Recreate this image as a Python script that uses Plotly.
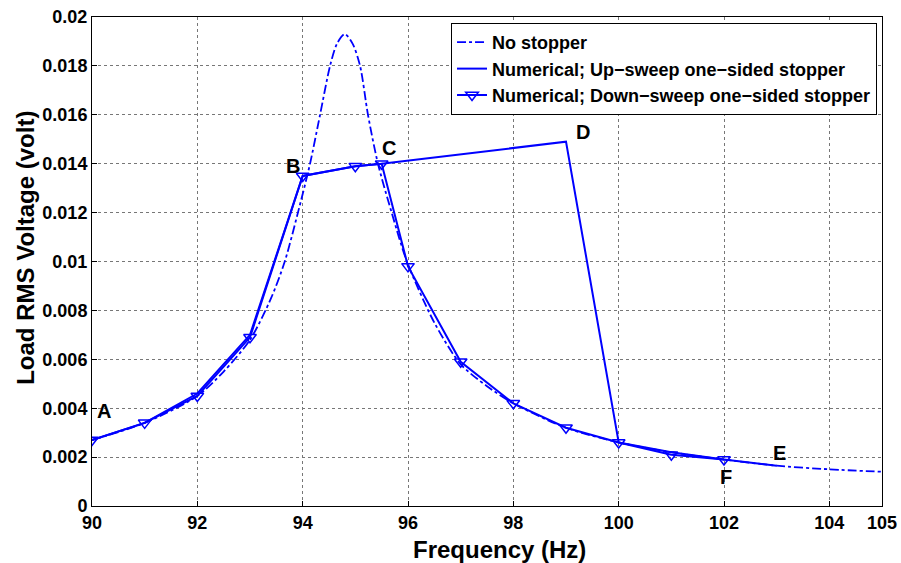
import plotly.graph_objects as go

# No stopper (analytical) curve
ns_x = [90, 91, 92, 92.5, 93, 93.4, 93.66, 93.91, 94.14, 94.33, 94.52, 94.65, 94.8, 94.95, 95.09, 95.24, 95.43, 95.69, 95.98, 96.5, 97, 97.5, 98, 99, 100, 101, 102, 103, 104, 105]
ns_y = [0.0027, 0.0034, 0.0045, 0.0055, 0.0068, 0.0085, 0.0100, 0.0120, 0.0140, 0.0160, 0.0180, 0.0189, 0.0193, 0.0189, 0.0180, 0.0160, 0.0140, 0.0120, 0.0100, 0.0075, 0.0058, 0.0049, 0.0042, 0.0032, 0.0026, 0.0022, 0.0019, 0.00165, 0.0015, 0.0014]

# Up-sweep one-sided stopper
up_x = [90, 91, 92, 93, 94, 95, 95.5, 99, 100, 101, 102, 103]
up_y = [0.0027, 0.0034, 0.0046, 0.0070, 0.0135, 0.0139, 0.0140, 0.0149, 0.0026, 0.0022, 0.0019, 0.00165]

# Down-sweep one-sided stopper
dn_x = [90, 91, 92, 93, 94, 95, 95.5, 96, 97, 98, 99, 100, 101, 102]
dn_y = [0.0027, 0.0034, 0.0045, 0.0069, 0.0135, 0.0139, 0.0140, 0.0098, 0.0059, 0.0042, 0.0032, 0.0026, 0.0021, 0.0019]

# Point labels
lab_text = ["A", "B", "C", "D", "E", "F"]
lab_x = [90.22, 93.82, 95.64, 99.32, 103.06, 102.04]
lab_y = [0.0039, 0.0139, 0.01465, 0.0153, 0.00215, 0.0012]

x_ticks = [90, 92, 94, 96, 98, 100, 102, 104, 105]
y_ticks = [0, 0.002, 0.004, 0.006, 0.008, 0.01, 0.012, 0.014, 0.016, 0.018, 0.02]
y_ticktext = ["0", "0.002", "0.004", "0.006", "0.008", "0.01", "0.012", "0.014", "0.016", "0.018", "0.02"]

BLUE = "#0000ff"
FONT = "Liberation Sans, Arial, sans-serif"

fig = go.Figure()
fig.add_trace(go.Scatter(x=ns_x, y=ns_y, mode="lines", name="No stopper",
                         line=dict(color=BLUE, width=1.8, dash="dashdot", shape="spline", smoothing=0.8)))
fig.add_trace(go.Scatter(x=up_x, y=up_y, mode="lines", name="Numerical; Up\u2212sweep one\u2212sided stopper",
                         line=dict(color=BLUE, width=2)))
fig.add_trace(go.Scatter(x=dn_x, y=dn_y, mode="lines+markers", name="Numerical; Down\u2212sweep one\u2212sided stopper",
                         line=dict(color=BLUE, width=2),
                         marker=dict(symbol="triangle-down-open", size=11, color=BLUE, line=dict(width=1.5, color=BLUE))))

for t, x, y in zip(lab_text, lab_x, lab_y):
    fig.add_annotation(x=x, y=y, text=t, showarrow=False,
                       font=dict(family=FONT, size=20, color="black", weight="bold"))

# Axis titles
fig.add_annotation(xref="paper", yref="paper", x=0.516, y=0, yshift=-43, text="Frequency (Hz)",
                   showarrow=False, xanchor="center", yanchor="middle",
                   font=dict(family=FONT, size=24, color="black", weight="bold"))
fig.add_annotation(xref="paper", yref="paper", x=0, xshift=-66, y=0.528, text="Load RMS Voltage (volt)",
                   showarrow=False, textangle=-90, xanchor="center", yanchor="middle",
                   font=dict(family=FONT, size=24, color="black", weight="bold"))

axis_common = dict(showline=True, linecolor="black", linewidth=1, mirror=True,
                   ticks="inside", ticklen=5, tickcolor="black",
                   showgrid=True, gridcolor="#777777", griddash="dot", gridwidth=1,
                   zeroline=False, automargin=False, ticklabeloverflow="allow",
                   tickfont=dict(family=FONT, size=18, color="black", weight="bold"))

fig.update_xaxes(range=[90, 105], tickvals=x_ticks, ticktext=[str(v) for v in x_ticks], **axis_common)
fig.update_yaxes(range=[0, 0.02], tickvals=y_ticks, ticktext=y_ticktext, **axis_common)

fig.update_layout(
    width=901, height=563,
    margin=dict(l=92, r=19, t=17, b=57),
    paper_bgcolor="white", plot_bgcolor="white",
    showlegend=True,
    legend=dict(x=0.9937, y=0.9877, xanchor="right", yanchor="top", xref="paper", yref="paper",
                bgcolor="white", bordercolor="black", borderwidth=1,
                font=dict(family=FONT, size=18, color="black", weight="bold"),
                tracegroupgap=0, itemwidth=30),
)

# remove the default page margin so the 901x563 figure fills the window exactly
fig.write_html("out.html", config={"displayModeBar": False},
               post_script="document.body.style.margin='0';")
